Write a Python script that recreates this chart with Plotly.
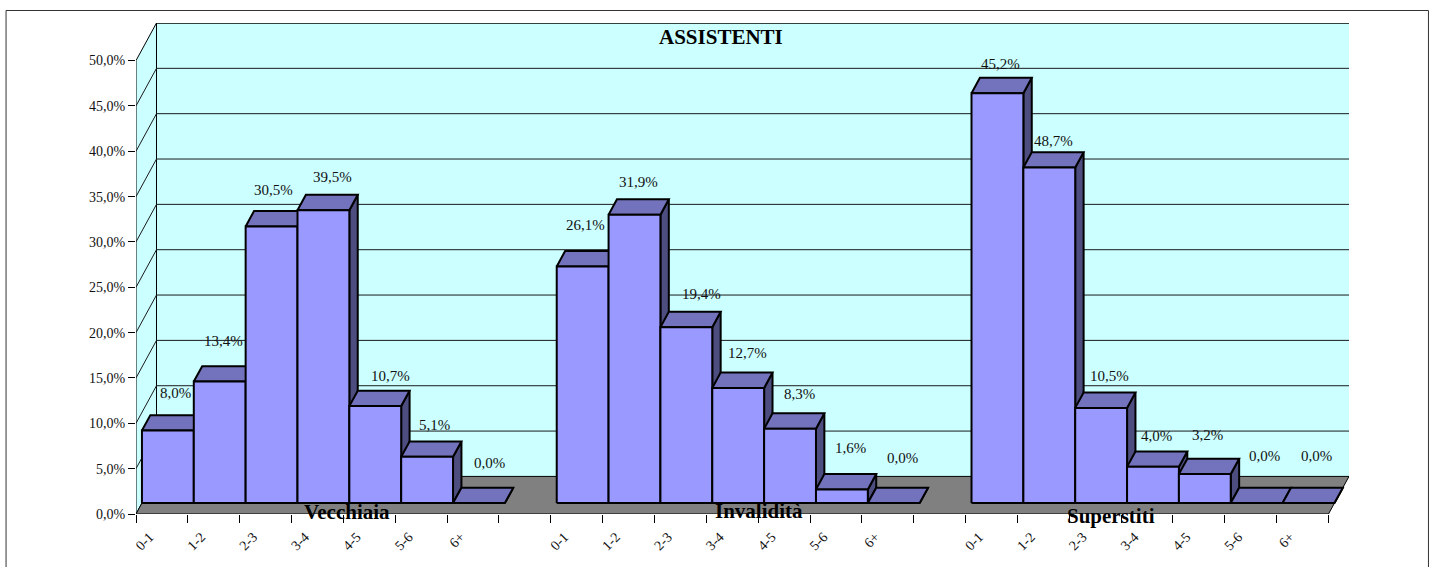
import plotly.graph_objects as go

# ---- data ----
bins = ["0-1", "1-2", "2-3", "3-4", "4-5", "5-6", "6+"]
group_names = ["Vecchiaia", "Invalidità", "Superstiti"]
vecchiaia = [8.0, 13.4, 30.5, 32.3, 10.7, 5.1, 0.0]
invalidita = [26.1, 31.8, 19.4, 12.7, 8.2, 1.5, 0.0]
superstiti = [45.2, 37.0, 10.5, 4.0, 3.2, 0.0, 0.0]
labels_vecchiaia = ["8,0%", "13,4%", "30,5%", "39,5%", "10,7%", "5,1%", "0,0%"]
labels_invalidita = ["26,1%", "31,9%", "19,4%", "12,7%", "8,3%", "1,6%", "0,0%"]
labels_superstiti = ["45,2%", "48,7%", "10,5%", "4,0%", "3,2%", "0,0%", "0,0%"]
y_ticks = [0, 5, 10, 15, 20, 25, 30, 35, 40, 45, 50]
y_tick_labels = ["0,0%", "5,0%", "10,0%", "15,0%", "20,0%", "25,0%", "30,0%", "35,0%", "40,0%", "45,0%", "50,0%"]
chart_title = "ASSISTENTI"

# ---- layout geometry (pixels) ----
W, H = 1434, 567
L, R, T, B = 135.5, 1349.0, 23.0, 514.0
N_SLOTS = 23
DEPTH_X_PX, DEPTH_Y_PX = 20.5, 37.6
PX_PER_SLOT = (R - L - DEPTH_X_PX) / N_SLOTS
PX_PER_PCT = 45.35 / 5
dx = DEPTH_X_PX / PX_PER_SLOT          # full floor depth in x units
dy = DEPTH_Y_PX / PX_PER_PCT           # full floor depth in y units
Y_MAX = 50.0
BAR_D0, BAR_D1 = 0.29, 0.70            # bar front / back as fraction of floor depth

# label nudges from each bar's front top centre (pixels; screen y is down)
label_dx = [8, 4, 2, 9, 15, 7, 11, 3, 4, 15, 9, 9, 9, 9, 3, 4, 8, 4, 3, 8, 8]
label_dy = [-38, -41, -37, -33, -30, -32, -40, -41, -33, -33, -35, -35, -42, -45,
            -29, -27, -32, -31, -39, -47, -47]

WALL = "#CCFFFF"
FLOOR = "#808080"
FRONT = "#9999FF"
TOP = "#7373BD"
SIDE = "#4D4D80"
TEXT = "#111111"
SERIF = "Liberation Serif, Times New Roman, serif"

fig = go.Figure()


def poly(xs, ys, fill, width=1.0, color="#000000"):
    fig.add_trace(go.Scatter(
        x=list(xs) + [xs[0]], y=list(ys) + [ys[0]], mode="lines", fill="toself",
        fillcolor=fill, line=dict(color=color, width=width), cliponaxis=False,
        hoverinfo="skip", showlegend=False))


def line(xs, ys, width=1.0, color="#000000"):
    fig.add_trace(go.Scatter(
        x=xs, y=ys, mode="lines", line=dict(color=color, width=width),
        cliponaxis=False, hoverinfo="skip", showlegend=False))


# walls
poly([dx, N_SLOTS + dx, N_SLOTS + dx, dx], [dy, dy, Y_MAX + dy, Y_MAX + dy], WALL, 0.01, WALL)
poly([0, dx, dx, 0], [0, dy, Y_MAX + dy, Y_MAX], WALL)
for v in y_ticks[1:-1]:
    line([0, dx, N_SLOTS + dx], [v, v + dy, v + dy], 1.0, "#1a1a1a")
line([dx, N_SLOTS + dx], [Y_MAX + dy, Y_MAX + dy], 1.5)
# floor
poly([0, N_SLOTS, N_SLOTS + dx, dx], [0, 0, dy, dy], FLOOR)

# bars, left to right, so each one hides the side of its left neighbour
groups = [(0, vecchiaia, labels_vecchiaia), (8, invalidita, labels_invalidita), (16, superstiti, labels_superstiti)]
annotations = []
k = 0
for start, values, texts in groups:
    for j, v in enumerate(values):
        x0 = start + j + BAR_D0 * dx
        x1 = x0 + 1
        y0 = BAR_D0 * dy
        ddx = (BAR_D1 - BAR_D0) * dx
        ddy = (BAR_D1 - BAR_D0) * dy
        poly([x1, x1 + ddx, x1 + ddx, x1], [y0, y0 + ddy, y0 + v + ddy, y0 + v], SIDE, 2)
        poly([x0, x1, x1 + ddx, x0 + ddx], [y0 + v, y0 + v, y0 + v + ddy, y0 + v + ddy], TOP, 2)
        poly([x0, x1, x1, x0], [y0, y0, y0 + v, y0 + v], FRONT, 2)
        annotations.append(dict(
            x=(x0 + x1) / 2, y=y0 + v, xref="x", yref="y", text=texts[j], showarrow=False,
            xanchor="center", yanchor="middle", xshift=label_dx[k], yshift=-label_dy[k],
            font=dict(family=SERIF, size=15, color=TEXT)))
        k += 1

# group captions
for name, xc, ysh in zip(group_names, [4.07, 12.02, 18.8], [2, 3, -2]):
    annotations.append(dict(
        x=xc, y=0, xref="x", yref="y", text=name, showarrow=False, xanchor="center",
        yanchor="middle", yshift=ysh, font=dict(family=SERIF, size=21, color="#000000", weight="bold")))
# title
annotations.append(dict(
    x=(721 - L) / PX_PER_SLOT, y=Y_MAX + dy, xref="x", yref="y", text="<b>" + chart_title + "</b>",
    showarrow=False, xanchor="center", yanchor="middle", yshift=-14,
    font=dict(family=SERIF, size=21, color="#000000")))

slot_ticks, slot_text, edge_ticks = [], [], []
for start, _, _ in groups:
    for j, b in enumerate(bins):
        slot_ticks.append(start + j + 0.26)
        slot_text.append(b)
edge_ticks = list(range(N_SLOTS + 1))

fig.update_layout(
    width=W, height=H, autosize=False,
    margin=dict(l=L, r=W - R, t=T, b=H - B, pad=0),
    paper_bgcolor="#FFFFFF", plot_bgcolor="rgba(0,0,0,0)",
    showlegend=False, annotations=annotations,
    xaxis=dict(range=[0, N_SLOTS + dx], showgrid=False, zeroline=False, showline=False, automargin=False,
               tickmode="array", tickvals=slot_ticks, ticktext=slot_text, ticks="",
               tickangle=-45, ticklabelstandoff=11,
               tickfont=dict(family=SERIF, size=14, color=TEXT),
               minor=dict(tickmode="array", tickvals=edge_ticks, ticks="outside", ticklen=8,
                          tickwidth=1, tickcolor="#000000", showgrid=False)),
    yaxis=dict(range=[0, Y_MAX + dy], showgrid=False, zeroline=False, showline=False, automargin=False,
               tickmode="array", tickvals=y_ticks, ticktext=y_tick_labels, ticks="outside",
               ticklen=7, tickwidth=1, tickcolor="#000000",
               tickfont=dict(family=SERIF, size=14, color=TEXT)),
    shapes=[dict(type="rect", xref="paper", yref="paper",
                 x0=(5.5 - L) / (R - L), x1=(1428.5 - L) / (R - L),
                 y0=(B - (H + 20)) / (B - T), y1=(B - 10.5) / (B - T),
                 line=dict(color="#333333", width=1), fillcolor="rgba(0,0,0,0)", layer="below")],
)

fig.write_html("out.html", config={"displayModeBar": False},
               post_script="document.body.style.margin='0';document.body.style.overflow='hidden';")
